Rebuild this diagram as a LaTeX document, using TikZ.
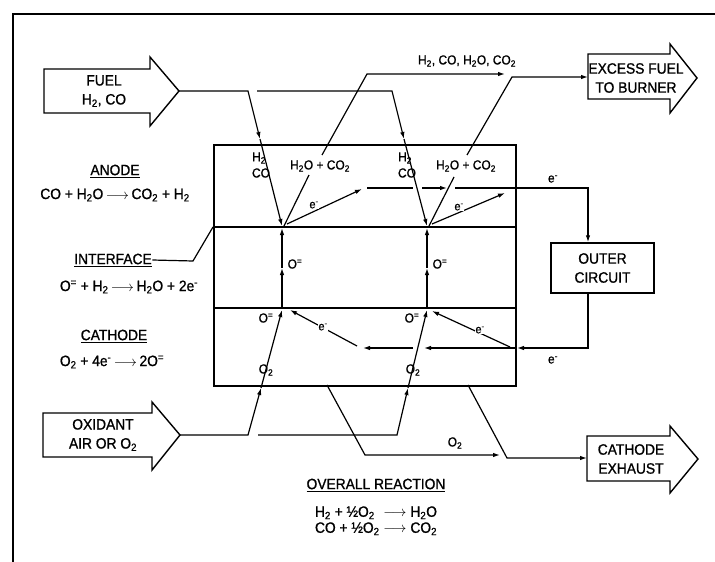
\documentclass[tikz,border=0pt]{standalone}
\usepackage{fontspec}
\setmainfont{Liberation Sans}[FakeStretch=0.92,FakeBold=1]
\usetikzlibrary{arrows.meta}
\newcommand\sbs[1]{\textsubscript{#1}}
\newcommand\sps[1]{\textsuperscript{#1}}
\newcommand\yields{\,$\longrightarrow$\,}
\begin{document}
\begin{tikzpicture}[x=1pt,y=-1pt, line width=1.2pt,
  big/.style={font=\fontsize{15}{19}\selectfont, align=center, inner sep=0pt},
  mid/.style={font=\fontsize{13}{14}\selectfont, inner sep=0pt},
  sml/.style={font=\fontsize{12}{12}\selectfont, inner sep=0.8pt, fill=white},
  arr/.style={-{Latex[length=7pt,width=4.5pt]}},
  blk/.style={line width=1.4pt, line join=miter},
  wall/.style={line width=1.5pt}]
\useasboundingbox (0,0) rectangle (715,562);
% frame
\draw (13,562) -- (13,14) -- (715,14);

% block arrows
\draw[blk] (44,69) -- (150,69) -- (150,57) -- (179,91) -- (150,126) -- (150,113) -- (44,113) -- cycle;
\node[big] (fuel) at (104,91) {FUEL\\H\sbs{2}, CO};
\coordinate (fueltip) at (179,91);

\draw[blk] (43,413) -- (152,413) -- (152,402) -- (180,435) -- (152,470) -- (152,457) -- (43,457) -- cycle;
\node[big] (oxid) at (103,435) {OXIDANT\\AIR OR O\sbs{2}};
\coordinate (oxtip) at (180,435);

\draw[blk] (588,54) -- (670,54) -- (670,44) -- (697,78) -- (670,113) -- (670,99) -- (588,99) -- cycle;
\node[big] (excess) at (636,78) {EXCESS FUEL\\TO BURNER};
\coordinate (exin) at (588,77);

\draw[blk] (587,436) -- (670,436) -- (670,426) -- (698,459) -- (670,493) -- (670,481) -- (587,481) -- cycle;
\node[big] (cexh) at (631,459) {CATHODE\\EXHAUST};
\coordinate (cain) at (587,458);

% cell
\node[draw, wall, minimum width=302pt, minimum height=241pt, anchor=north west, inner sep=0pt] (cell) at (213,144) {};
\draw[wall] (213,227) -- (515,227);
\draw[wall] (213,308) -- (515,308);

% outer circuit
\node[draw, wall, big, minimum width=103pt, minimum height=50pt] (oc) at (602.5,268) {OUTER\\CIRCUIT};

% fuel lines
\coordinate (f1) at (248,91);
\coordinate (f1m) at (260,139);
\coordinate (v1) at (282,226);
\draw[arr] (fueltip) -- (f1) -- (f1m);
\draw[arr] (f1m) -- (v1);
\coordinate (f2s) at (257,91);
\coordinate (f2) at (392,91);
\coordinate (f2m) at (404,139);
\coordinate (v2) at (427,226);
\draw[arr] (f2s) -- (f2) -- (f2m);
\draw[arr] (f2m) -- (v2);

% product lines
\coordinate (p1a) at (309,175);
\coordinate (p1b) at (322,155);
\coordinate (p1c) at (367,74);
\coordinate (exa) at (505,74);
\draw (284,226) -- (p1a);
\draw[arr] (p1b) -- (p1c) -- (exa);
\coordinate (p2a) at (454,177);
\coordinate (p2b) at (467,155);
\coordinate (p2c) at (512,77);
\draw (429,226) -- (p2a);
\draw[arr] (p2b) -- (p2c) -- (exin);
\node[mid] (mix) at (467,61) {H\sbs{2}, CO, H\sbs{2}O, CO\sbs{2}};

% anode electrons
\draw[arr] (287,224) -- (362,189);
\node[sml] (ea1) at (314,205) {e\sps{-}};
\draw[arr] (432,224) -- (505,193);
\node[sml] (ea2) at (459,207) {e\sps{-}};
\coordinate (wa) at (588,188);
\coordinate (wb) at (588,348);
\draw (367,188) -- (413,188);
\draw[arr] (422,188) -- (447,188);
\draw[arr] (455,188) -- (wa) -- (wa |- oc.north);
\node[mid] (ew1) at (553,179) {e\sps{-}};

% cathode electrons
\draw[arr] (oc.south -| wb) -- (wb) -- (517,348);
\draw[arr] (515,348) -- (424,348);
\draw[arr] (413,348) -- (363,348);
\node[mid] (ew2) at (553,360) {e\sps{-}};
\draw[arr] (510,347) -- (432,311);
\node[sml] (ec2) at (480,330) {e\sps{-}};
\draw[arr] (357,346) -- (290,310);
\node[sml] (ec1) at (323,327) {e\sps{-}};

% oxidant lines
\coordinate (o1) at (248,435);
\coordinate (o1m) at (261,388);
\coordinate (c1) at (282,310);
\draw[arr] (oxtip) -- (o1) -- (o1m);
\draw[arr] (o1m) -- (c1);
\coordinate (o2s) at (258,435);
\coordinate (o2) at (397,435);
\coordinate (o2m) at (408,388);
\coordinate (c2) at (427,310);
\draw[arr] (o2s) -- (o2) -- (o2m);
\draw[arr] (o2m) -- (c2);

% ion transport
\draw[arr] (282,308) -- (282,268);
\draw[arr] (282,268) -- (282,228);
\draw[arr] (427,308) -- (427,268);
\draw[arr] (427,268) -- (427,228);
\node[mid] (oi1) at (295,264) {O\sps{=}};
\node[mid] (oi2) at (440,264) {O\sps{=}};

% exhaust
\draw[arr] (327,385) -- (365,455) -- (500,455);
\node[mid] (o2x) at (455,443) {O\sbs{2}};
\draw[arr] (468,385) -- (507,458) -- (cain);

% labels inside cell
\node[mid] (h1) at (259,158) {H\sbs{2}};
\node[mid] (co1) at (261,173) {CO};
\node[mid] (h2) at (405,158) {H\sbs{2}};
\node[mid] (co2) at (407,173) {CO};
\node[mid] (w1) at (320,166) {H\sbs{2}O + CO\sbs{2}};
\node[mid] (w2) at (466,166) {H\sbs{2}O + CO\sbs{2}};
\node[mid] (oc1) at (266,318) {O\sps{=}};
\node[mid] (oc2) at (412,318) {O\sps{=}};
\node[mid] (ox1) at (266,370) {O\sbs{2}};
\node[mid] (ox2) at (413,370) {O\sbs{2}};

% left texts
\node[big] (anode) at (115,171) {\underline{ANODE}};
\node[big] (anr) at (115,195) {CO + H\sbs{2}O\yields CO\sbs{2} + H\sbs{2}};
\node[big] (intf) at (113,260) {\underline{INTERFACE}};
\draw (intf.east) -- (193,261) -- (213,227);
\node[big] (intr) at (129,287) {O\sps{=} + H\sbs{2}\yields H\sbs{2}O + 2e\sps{-}};
\node[big] (cath) at (114,336) {\underline{CATHODE}};
\node[big] (cathr) at (112,362) {O\sbs{2} + 4e\sps{-}\yields 2O\sps{=}};

% overall
\node[big] (ovr) at (376,485) {\underline{OVERALL REACTION}};
\node[big] (ovrr) at (376,521) {\begin{tabular}{@{}l@{\ }c@{\ }l@{}}
H\sbs{2} + ½O\sbs{2} & $\longrightarrow$ & H\sbs{2}O\\[-3pt]
CO + ½O\sbs{2} & $\longrightarrow$ & CO\sbs{2}
\end{tabular}};
\end{tikzpicture}
\end{document}
